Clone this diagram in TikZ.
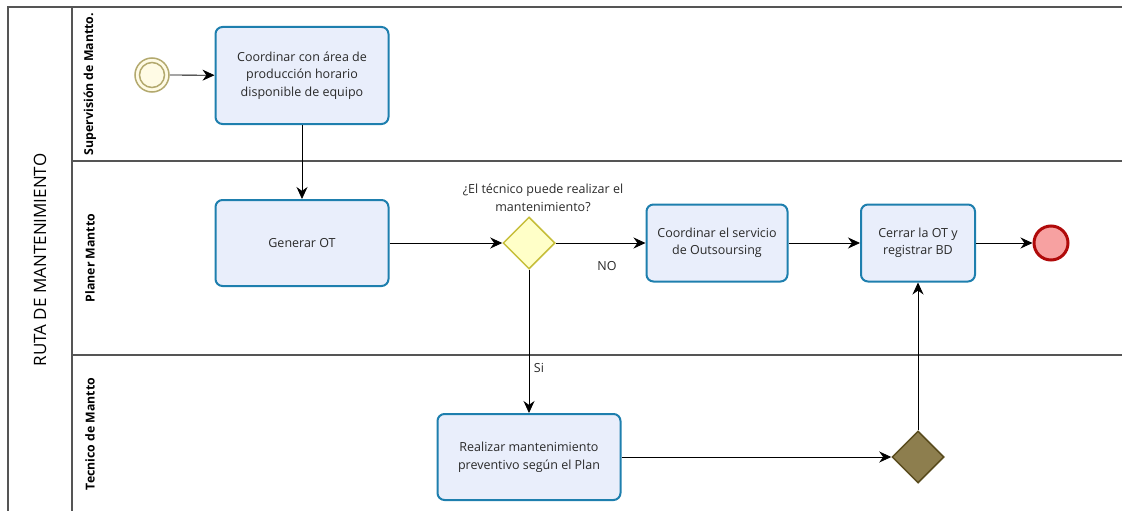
\documentclass[tikz,border=0pt]{standalone}
\usepackage{fontspec}
\setmainfont{Open Sans}
\usetikzlibrary{arrows.meta,shapes.geometric}

\definecolor{poolgray}{HTML}{555555}
\definecolor{textgray}{HTML}{2A2A2A}
\definecolor{taskfill}{HTML}{E9EEFB}
\definecolor{taskline}{HTML}{1E7FAE}
\definecolor{gatefill}{HTML}{FFFFC8}
\definecolor{gateline}{HTML}{C6BE3A}
\definecolor{joinfill}{HTML}{8D7E4E}
\definecolor{joinline}{HTML}{5A4C1E}
\definecolor{startfill}{HTML}{FFFBE5}
\definecolor{startline}{HTML}{B3A96E}
\definecolor{endfill}{HTML}{F7A1A1}
\definecolor{endline}{HTML}{B00A0A}

\begin{document}
\begin{tikzpicture}[x=1pt,y=-1pt,
  lane/.style={draw=poolgray,line width=1.2pt},
  task/.style={draw=taskline,fill=taskfill,line width=2pt,rounded corners=7pt,
    align=center,inner sep=0pt,text=textgray,font=\fontsize{12.5}{17.5}\selectfont},
  gateway/.style={diamond,draw=gateline,fill=gatefill,line width=1.5pt,
    minimum width=52,minimum height=52,inner sep=0pt},
  startevent/.style={circle,draw=startline,fill=startfill,line width=1.5pt,
    minimum size=34,inner sep=0pt},
  endevent/.style={circle,draw=endline,fill=endfill,line width=3pt,
    minimum size=34,inner sep=0pt},
  flow/.style={-{Stealth[length=12pt,width=11pt]},line width=0.8pt},
  lanelabel/.style={rotate=90,font=\bfseries\fontsize{12.3}{14}\selectfont},
  pooltitle/.style={rotate=90,font=\fontsize{17}{19}\selectfont},
  lbl/.style={text=textgray,align=center,font=\fontsize{12.5}{17.5}\selectfont}]
\useasboundingbox (0,0) rectangle (1122,511);

% pool and lanes
\draw[lane] (1122,7) -- (8,7) -- (8,511);
\draw[lane] (72,7) -- (72,511);
\draw[lane] (72,161) -- (1122,161);
\draw[lane] (72,355) -- (1122,355);
\node[pooltitle] (pool) at (40,260) {RUTA DE MANTENIMIENTO};
\node[lanelabel] (supervision) at (90,84) {Supervisión de Mantto.};
\node[lanelabel] (planer) at (90,258) {Planer Mantto};
\node[lanelabel] (tecnico) at (90,434) {Tecnico de Mantto};

% events, tasks, gateways
\node[startevent] (inicio) at (152,75) {};
\draw[startline,line width=1.5pt] (inicio.center) circle (12.5);
\node[task,minimum width=173,minimum height=97] (coordinar) at (302,75.5)
  {Coordinar con área de\\producción horario\\disponible de equipo};
\node[task,minimum width=173,minimum height=86] (generar) at (302,243) {Generar OT};
\node[gateway] (decision) at (529,243) {};
\node[lbl] (pregunta) at (543,198) {¿El técnico puede realizar el\\mantenimiento?};
\node[task,minimum width=141,minimum height=77] (outsourcing) at (717,243)
  {Coordinar el servicio\\de Outsoursing};
\node[task,minimum width=114,minimum height=77] (cerrar) at (918,243)
  {Cerrar la OT y\\registrar BD};
\node[endevent] (fin) at (1051,243) {};
\node[task,minimum width=183,minimum height=86] (realizar) at (529,457)
  {Realizar mantenimiento\\preventivo según el Plan};
\node[gateway,draw=joinline,fill=joinfill] (union) at (918,457) {};
\node[lbl] (no) at (607,266) {NO};
\node[lbl] (si) at (539,368) {Si};

% flows
\draw[flow] (inicio) -- (coordinar);
\draw[flow] (coordinar) -- (generar);
\draw[flow] (generar) -- (decision);
\draw[flow] (decision) -- (outsourcing);
\draw[flow] (decision) -- (realizar);
\draw[flow] (outsourcing) -- (cerrar);
\draw[flow] (cerrar) -- (fin);
\draw[flow] (realizar) -- (union);
\draw[flow] (union) -- (cerrar);
\end{tikzpicture}
\end{document}
